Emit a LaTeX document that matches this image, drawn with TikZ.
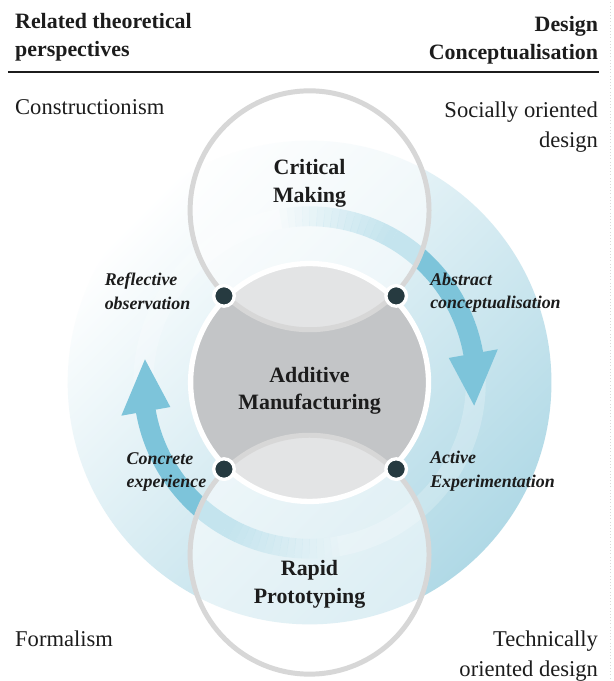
\documentclass[tikz,border=0pt]{standalone}
\usepackage{fontspec}
\setmainfont{Liberation Serif}
\usepackage{tikz}
\usetikzlibrary{positioning}

\definecolor{inkdark}{HTML}{1C1C1C}
\definecolor{discblue}{HTML}{B0D9E6}
\definecolor{cycleblue}{HTML}{7DC4DA}
\definecolor{coregray}{HTML}{C3C5C7}
\definecolor{ringgray}{HTML}{D7D7D7}
\definecolor{dotdark}{HTML}{263A40}

\begin{document}
\begin{tikzpicture}[
        x=0.75pt,
        y=0.75pt,
        rule/.style={line width=1.5pt, inkdark},
        header/.style={inner sep=0pt, text=inkdark, font=\bfseries\fontsize{16.5}{21}\selectfont},
        corner/.style={inner sep=0pt, text=inkdark, font=\fontsize{17}{22.5}\selectfont},
        practice/.style={inner sep=0pt, align=center, text=inkdark, font=\bfseries\fontsize{16.5}{21}\selectfont},
        stage/.style={inner sep=0pt, align=left, text=inkdark, font=\bfseries\itshape\fontsize{13.5}{17.5}\selectfont},
        outline/.style={draw=ringgray, line width=3.75pt, fill=white, fill opacity=0.55},
        cycle/.style={line width=15pt, cycleblue},
        junction/.style={circle, fill=dotdark, draw=white, line width=2.5pt, minimum size=15.5pt, inner sep=0pt}
    ]
        \path[fill=white] (0,0) rectangle (616,681);
        \draw[gray!30, dotted, line width=0.4pt] (613,0) -- (613,681);

        % Column heads and the four corner positions.
        \node[header, anchor=north west, align=left] (persp) at (15,668) {Related theoretical\\perspectives};
        \node[header, anchor=north east, align=right] (concept) at (601,665) {Design\\Conceptualisation};
        \draw[rule] (8,609) -- (602,609);
        \node[corner, anchor=north west] (constr) at (15,582) {Constructionism};
        \node[corner, anchor=north east, align=right] (social) at (601,579) {Socially oriented\\design};
        \node[corner, anchor=north west] (formal) at (15,48) {Formalism};
        \node[corner, anchor=north east, align=right] (technical) at (601,48) {Technically\\oriented design};

        % Learning cycle: shaded disc, pale track and the two arrows.
        \shade[top color=white, bottom color=discblue, shading angle=45] (311,297) circle (243);
        \draw[white, opacity=0.22, line width=15pt] (311,297) circle (167);
        \begin{scope}[shift={(311,297)}]
            \foreach \i in {0,...,15} {
                \pgfmathsetmacro\op{(\i+1)/16}
                \pgfmathsetmacro\a{100-2.5*\i}
                \pgfmathsetmacro\b{\a-2.6}
                \draw[cycle, opacity=\op] (\a:167) arc (\a:\b:167);
                \pgfmathsetmacro\a{280-2.5*\i}
                \pgfmathsetmacro\b{\a-2.6}
                \draw[cycle, opacity=\op] (\a:167) arc (\a:\b:167);
            }
            \draw[cycle] (60:167) arc (60:9:167);
            \fill[cycleblue] (10:142) -- (-8:167) -- (10:192) -- cycle;
            \draw[cycle] (240:167) arc (240:189:167);
            \fill[cycleblue] (190:142) -- (172:167) -- (190:192) -- cycle;
        \end{scope}

        % Three overlapping practices.
        \draw[fill=coregray, draw=white, line width=4pt] (311,297) circle (119.5);
        \draw[outline] (311,470) circle (120);
        \draw[outline] (311,124) circle (120);

        \node[junction] (ro) at (225,384) {};
        \node[junction] (ac) at (398,384) {};
        \node[junction] (ce) at (225,210) {};
        \node[junction] (ae) at (398,210) {};

        \node[practice, anchor=north] (critical) at (311,521) {Critical\\Making};
        \node[practice, anchor=north] (additive) at (311,313) {Additive\\Manufacturing};
        \node[practice, anchor=north] (rapid) at (311,119) {Rapid\\Prototyping};

        \node[stage, anchor=north west] (reflect) at (105,407) {Reflective\\observation};
        \node[stage, anchor=north west] (abstract) at (432,407) {Abstract\\conceptualisation};
        \node[stage, anchor=north west] (concrete) at (127,227) {Concrete\\experience};
        \node[stage, anchor=north west] (active) at (432,228) {Active\\Experimentation};
    \end{tikzpicture}
\end{document}
